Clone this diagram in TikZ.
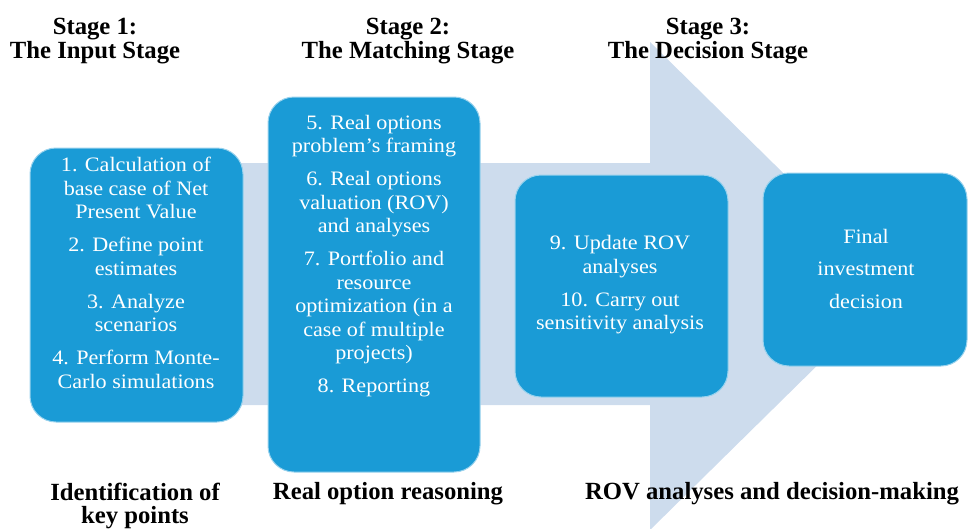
\documentclass[tikz,border=0pt]{standalone}
\usepackage{fontspec}
\setmainfont{Liberation Serif}
\newfontfamily\boxfont{Liberation Serif}[FakeStretch=1.08]
\definecolor{boxblue}{RGB}{26,155,214}
\definecolor{arrowblue}{RGB}{205,220,237}
\tikzset{
  stagebox/.style={rectangle, rounded corners=26pt, fill=boxblue, draw=white!55!boxblue, line width=1pt, inner sep=0pt},
  boxtext/.style={text=white, align=center, font=\boxfont\fontsize{20.5}{23.5}\selectfont, inner sep=0pt},
  headtext/.style={align=center, font=\bfseries\fontsize{24.7}{22.5}\selectfont, inner sep=0pt},
}
\begin{document}
\begin{tikzpicture}[x=1pt,y=-1pt]
\useasboundingbox (0,0) rectangle (968,528);
% big arrow
\fill[arrowblue] (40,163) -- (650,163) -- (650,42) -- (898,286) -- (650,530) -- (650,405) -- (40,405) -- cycle;
% boxes
\node[stagebox, minimum width=213pt, minimum height=274pt] (b1) at (136.5,285) {};
\node[stagebox, minimum width=212pt, minimum height=375pt] (b2) at (374,284.5) {};
\node[stagebox, minimum width=213pt, minimum height=222pt] (b3) at (621.5,286) {};
\node[stagebox, minimum width=204pt, minimum height=193pt] (b4) at (865,269.5) {};
% box texts
\node[boxtext] (t1) at (136,273) {1. Calculation of\\base case of Net\\Present Value\\[9.5pt]2. Define point\\estimates\\[9.5pt]3. Analyze\\scenarios\\[9.5pt]4. Perform Monte-\\Carlo simulations};
\node[boxtext] (t2) at (374,256) {5. Real options\\problem’s framing\\[9.5pt]6. Real options\\valuation (ROV)\\and analyses\\[9.5pt]7. Portfolio and\\resource\\optimization (in a\\case of multiple\\projects)\\[9.5pt]8. Reporting};
\node[boxtext] (t3) at (620,285) {9. Update ROV\\analyses\\[9.5pt]10. Carry out\\sensitivity analysis};
\node[boxtext, font=\boxfont\fontsize{20.5}{32.5}\selectfont] (t4) at (866,268.5) {Final\\investment\\decision};
% headings
\node[headtext] (h1) at (95,41) {Stage 1:\\The Input Stage};
\node[headtext] (h2) at (408,41) {Stage 2:\\The Matching Stage};
\node[headtext] (h3) at (708,41) {Stage 3:\\The Decision Stage};
% bottom labels
\node[headtext] (f1) at (135,506) {Identification of\\key points};
\node[headtext] (f2) at (388,494) {Real option reasoning};
\node[headtext] (f3) at (772,494) {ROV analyses and decision-making};
\end{tikzpicture}
\end{document}
